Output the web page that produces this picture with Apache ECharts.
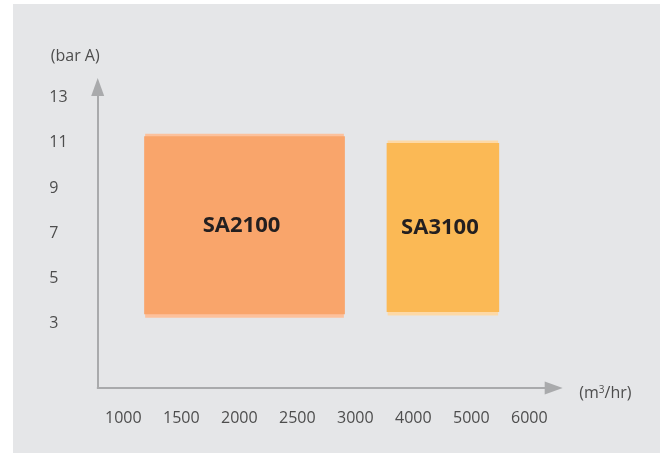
<!DOCTYPE html>
<html>
<head>
<meta charset="utf-8">
<script src="https://cdn.jsdelivr.net/npm/echarts@6/dist/echarts.min.js"></script>
<style>
  html, body { margin: 0; padding: 0; background: #ffffff; }
  #panel { position: absolute; left: 13px; top: 4px; width: 647px; height: 449px; background: #e5e6e8; }
  #chart { position: absolute; left: 0; top: 0; width: 660px; height: 453px; }
</style>
</head>
<body>
<div id="panel"></div>
<div id="chart"></div>
<script>
// Tick labels (x axis is evenly spaced between these flow values)
const xTickValues = [1000, 1500, 2000, 2500, 3000, 4000, 5000, 6000];
const yTickValues = [3, 5, 7, 9, 11, 13];

// Operating ranges
const models   = ['SA2100', 'SA3100'];
const flowMin  = [1180, 3540];   // m3/hr
const flowMax  = [2910, 5480];   // m3/hr
const pressMin = [3.4, 3.5];     // bar A
const pressMax = [11.3, 11.0];   // bar A

const mainColors  = ['#f9a56b', '#fbb955'];
const lightColors = ['#fcc19c', '#fdd9a6'];

// Map a flow value onto the evenly spaced tick index scale
function flowToIndex(v) {
  for (let i = 0; i < xTickValues.length - 1; i++) {
    const a = xTickValues[i], b = xTickValues[i + 1];
    if (v <= b || i === xTickValues.length - 2) return i + (v - a) / (b - a);
  }
  return 0;
}

const data = models.map((m, i) => [flowToIndex(flowMin[i]), flowToIndex(flowMax[i]), pressMin[i], pressMax[i], m]);

const chart = echarts.init(document.getElementById('chart'), null, { renderer: 'canvas' });
const fontFamily = '"Open Sans", "Noto Sans", sans-serif';
const textColor = '#4d4d4d';
const axisColor = '#a9aaac';

chart.setOption({
  backgroundColor: 'transparent',
  animation: false,
  grid: { left: 97.7, right: 106.3, top: 87, bottom: 65 },
  xAxis: {
    type: 'value',
    min: -0.441,
    max: 7.42,
    name: '(m{sup|3}/hr)',
    nameLocation: 'end',
    nameGap: 25.6,
    nameTextStyle: {
      color: textColor, fontFamily: fontFamily, fontSize: 16, padding: [10, 0, 0, 0],
      rich: { sup: { fontSize: 10, verticalAlign: 'top', color: textColor, fontFamily: fontFamily, padding: [0, 0, 6, 0] } }
    },
    axisLine: { show: true, onZero: false, symbol: ['none', 'triangle'], symbolSize: [13, 18], lineStyle: { color: axisColor, width: 2 } },
    axisTick: { show: false },
    splitLine: { show: false },
    axisLabel: {
      customValues: xTickValues.map((v, i) => i),
      formatter: function (v) { const i = Math.round(v); return String(xTickValues[i]); },
      color: textColor, fontFamily: fontFamily, fontSize: 16, margin: 22
    }
  },
  yAxis: {
    type: 'value',
    min: 0.13,
    max: 13.48,
    name: '(bar A)',
    nameLocation: 'end',
    nameGap: 23,
    nameTextStyle: { color: textColor, fontFamily: fontFamily, fontSize: 16, align: 'center', padding: [0, 45, 0, 0] },
    axisLine: { show: true, onZero: false, symbol: ['none', 'triangle'], symbolSize: [13, 18], lineStyle: { color: axisColor, width: 2 } },
    axisTick: { show: false },
    splitLine: { show: false },
    axisLabel: {
      customValues: yTickValues,
      color: textColor, fontFamily: fontFamily, fontSize: 16, margin: 48.4, align: 'left',
      padding: [4, 0, 0, 0]
    }
  },
  series: [{
    type: 'custom',
    data: data,
    encode: { x: [0, 1], y: [2, 3] },
    renderItem: function (params, api) {
      const i = params.dataIndex;
      const p0 = api.coord([api.value(0), api.value(3)]);
      const p1 = api.coord([api.value(1), api.value(2)]);
      const x = p0[0], y = p0[1], w = p1[0] - p0[0], h = p1[1] - p0[1];
      return {
        type: 'group',
        children: [
          { type: 'rect', shape: { x: x + 1, y: y - 2.5, width: w - 2, height: h + 6 }, style: { fill: lightColors[i] } },
          { type: 'rect', shape: { x: x, y: y, width: w, height: h }, style: { fill: mainColors[i] } },
          { type: 'text', x: x + w / 2 - 3, y: y + h / 2 + 0.5,
            style: { text: models[i], fill: '#231f20', font: 'bold 22px ' + fontFamily, align: 'center', verticalAlign: 'middle' } }
        ]
      };
    }
  }]
});
</script>
</body>
</html>
